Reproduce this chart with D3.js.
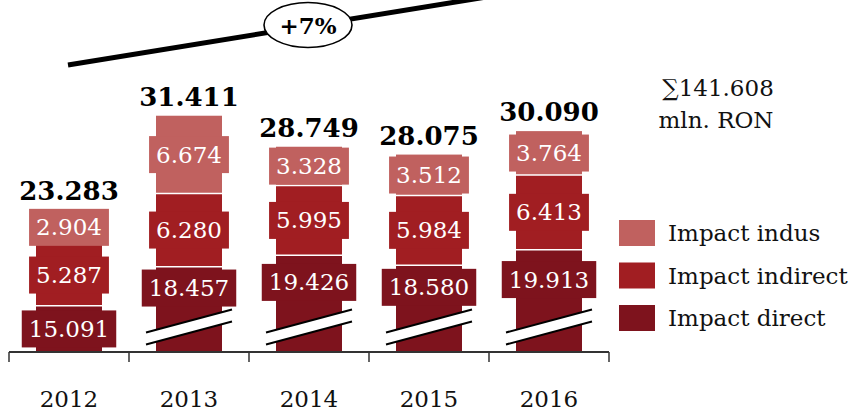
<!DOCTYPE html>
<html><head><meta charset="utf-8">
<script src="https://cdn.jsdelivr.net/npm/d3@7"></script>
<style>body{margin:0;background:#fff}svg{display:block}</style>
</head><body>
<svg id="c" width="850" height="412"></svg>
<script>
const years = ["2012", "2013", "2014", "2015", "2016"];
const direct = [15091, 18457, 19426, 18580, 19913];
const indirect = [5287, 6280, 5995, 5984, 6413];
const indus = [2904, 6674, 3328, 3512, 3764];
const totals = [23283, 31411, 28749, 28075, 30090];
const seriesKeys = ["direct", "indirect", "indus"];
const seriesNames = {direct: "Impact direct", indirect: "Impact indirect", indus: "Impact indus"};
const axisBreak = 11130;      // value omitted from every direct segment (broken axis)
const breakAt = 2150;         // where the break mark sits (shown value)
const growthLabel = "+7%";
const unitLabel = "mln. RON";

const colors = {indus: "#C0615F", indirect: "#A11E22", direct: "#7E131D"};
const FONT = "'DejaVu Serif', serif";
const fmt = d3.formatLocale({decimal: ",", thousands: ".", grouping: [3], currency: ["", ""]}).format(",d");

const svg = d3.select("#c");
const baseY = 352;
const x = d3.scaleBand().domain(years).range([9, 609]).paddingInner(0.45).paddingOuter(0.225);
const y = d3.scaleLinear().domain([0, 30000]).range([baseY, baseY - 30000 * 0.01165]);
const bw = x.bandwidth();

const rows = years.map((yr, i) => ({year: yr, direct: direct[i] - axisBreak, indirect: indirect[i], indus: indus[i],
  raw: {direct: direct[i], indirect: indirect[i], indus: indus[i]}, total: totals[i]}));
const stack = d3.stack().keys(seriesKeys)(rows);

// trend line + growth bubble
const cx0 = x(years[0]) + bw / 2 - 1;
const slope = -0.1625;
svg.append("line").attr("x1", cx0).attr("y1", 65).attr("x2", cx0 + 440).attr("y2", 65 + 440 * slope)
  .attr("stroke", "#000").attr("stroke-width", 5);
const ecx = x(years[2]) + bw / 2 - 1;
svg.append("ellipse").attr("cx", ecx).attr("cy", 25).attr("rx", 44).attr("ry", 22.5)
  .attr("fill", "#fff").attr("stroke", "#000").attr("stroke-width", 1.6);
svg.append("text").attr("x", ecx).attr("y", 34).attr("text-anchor", "middle")
  .attr("font-family", FONT).attr("font-weight", "bold").attr("font-size", 23).attr("fill", "#000").text(growthLabel);

// segments
const gBars = svg.append("g");
stack.forEach(layer => {
  gBars.selectAll(null).data(layer).join("rect")
    .attr("x", d => x(d.data.year)).attr("width", bw)
    .attr("y", d => y(d[1])).attr("height", d => y(d[0]) - y(d[1]))
    .attr("fill", colors[layer.key]);
});
// white separators
stack.slice(0, 2).forEach(layer => {
  gBars.selectAll(null).data(layer).join("line")
    .attr("x1", d => x(d.data.year)).attr("x2", d => x(d.data.year) + bw)
    .attr("y1", d => y(d[1])).attr("y2", d => y(d[1]))
    .attr("stroke", "#fff").attr("stroke-width", 1.5);
});

// break marks on direct segments with room
const boxH = 37;
const yb = y(breakAt);
const hw = 43, bdy = 11.5, bgap = 6;
const breakTop = yb - bgap - bdy;
const hasBreak = d => (y(d[0]) - y(d[1])) - boxH >= 20;
stack[0].forEach(d => {
  if (!hasBreak(d)) return;
  const cx = x(d.data.year) + bw / 2;
  const g = svg.append("g");
  g.append("polygon").attr("points", [
    [cx - hw, yb - bgap + bdy], [cx + hw, yb - bgap - bdy], [cx + hw, yb + bgap - bdy], [cx - hw, yb + bgap + bdy]
  ].map(p => p.join(",")).join(" ")).attr("fill", "#fff");
  [-bgap, bgap].forEach(o => g.append("line")
    .attr("x1", cx - hw).attr("y1", yb + o + bdy).attr("x2", cx + hw).attr("y2", yb + o - bdy)
    .attr("stroke", "#000").attr("stroke-width", 2));
});

// segment labels with background boxes
stack.forEach(layer => {
  layer.forEach(d => {
    const cx = x(d.data.year) + bw / 2;
    const bottom = (layer.key === "direct" && hasBreak(d)) ? breakTop : y(d[0]);
    const cy = (bottom + y(d[1])) / 2;
    const g = svg.append("g").attr("transform", `translate(${cx},${cy})`);
    const t = g.append("text").attr("text-anchor", "middle").attr("y", 8)
      .attr("font-family", FONT).attr("font-size", 23).attr("fill", "#fff")
      .text(fmt(d.data.raw[layer.key]));
    const w = t.node().getComputedTextLength() + 14;
    g.insert("rect", "text").attr("x", -w / 2).attr("y", -boxH / 2).attr("width", w).attr("height", boxH)
      .attr("fill", colors[layer.key]);
  });
});

// totals
svg.selectAll(null).data(stack[2]).join("text")
  .attr("x", d => x(d.data.year) + bw / 2).attr("y", d => y(d[1]) - 10)
  .attr("text-anchor", "middle").attr("font-family", FONT).attr("font-weight", "bold")
  .attr("font-size", 26).attr("fill", "#000").text(d => fmt(d.data.total));

// axis
const x0 = x.range()[0], x1 = x.range()[1];
svg.append("line").attr("x1", x0).attr("x2", x1).attr("y1", baseY).attr("y2", baseY)
  .attr("stroke", "#333").attr("stroke-width", 2);
const bounds = years.map(yr => x(yr) - x.step() * x.paddingInner() / 2).concat([x1]);
bounds[0] = x0;
svg.selectAll(null).data(bounds).join("line")
  .attr("x1", d => d).attr("x2", d => d).attr("y1", baseY).attr("y2", baseY + 10)
  .attr("stroke", "#333").attr("stroke-width", 1.5);
svg.selectAll(null).data(years).join("text")
  .attr("x", d => x(d) + bw / 2).attr("y", 407).attr("text-anchor", "middle")
  .attr("font-family", FONT).attr("font-size", 23).attr("fill", "#111").text(d => d);

// sum
svg.append("text").attr("x", 718).attr("y", 96).attr("text-anchor", "middle")
  .attr("font-family", FONT).attr("font-size", 23).attr("fill", "#111").text("\u2211" + fmt(d3.sum(totals)));
svg.append("text").attr("x", 716).attr("y", 128).attr("text-anchor", "middle")
  .attr("font-family", FONT).attr("font-size", 23).attr("fill", "#111").text(unitLabel);

// legend
const legendKeys = ["indus", "indirect", "direct"];
const lg = svg.append("g").attr("transform", "translate(619,220)");
legendKeys.forEach((k, i) => {
  const g = lg.append("g").attr("transform", `translate(0,${i * 42.5})`);
  g.append("rect").attr("width", 36).attr("height", 26).attr("fill", colors[k]);
  g.append("text").attr("x", 49).attr("y", 21).attr("font-family", FONT).attr("font-size", 23)
    .attr("fill", "#111").text(seriesNames[k]);
});
</script>
</body></html>
